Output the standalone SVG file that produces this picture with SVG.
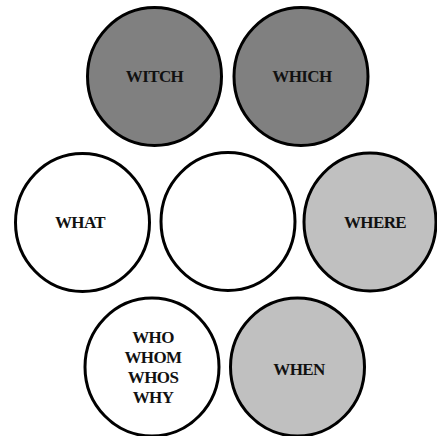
<svg xmlns="http://www.w3.org/2000/svg" width="437" height="436" viewBox="0 0 437 436">
<style>
.c{stroke:#000;stroke-width:3}
.dark{fill:#808080}
.light{fill:#c0c0c0}
.white{fill:#fff}
text{font-family:"Liberation Serif","Times New Roman",serif;font-weight:bold;font-size:17px;letter-spacing:-0.6px;fill:#111;text-anchor:middle}
</style>
<rect width="437" height="436" fill="#fff"/>
<g id="connectors"/>
<g id="witch"><ellipse class="c dark" cx="154.5" cy="76.5" rx="67" ry="69"/><text x="154.5" y="81.5">WITCH</text></g>
<g id="which"><ellipse class="c dark" cx="301" cy="76.5" rx="67" ry="69"/><text x="302" y="81.5">WHICH</text></g>
<g id="what"><ellipse class="c white" cx="82.5" cy="222.5" rx="67" ry="69"/><text x="80" y="228">WHAT</text></g>
<g id="center"><ellipse class="c white" cx="228" cy="221.5" rx="67" ry="69"/></g>
<g id="where"><ellipse class="c light" cx="370" cy="222" rx="66" ry="69"/><text x="375" y="227.5">WHERE</text></g>
<g id="who"><ellipse class="c white" cx="152" cy="367" rx="67" ry="69"/><text x="153" y="342.5">WHO</text><text x="153" y="363">WHOM</text><text x="153" y="383">WHOS</text><text x="153" y="403">WHY</text></g>
<g id="when"><ellipse class="c light" cx="297.5" cy="367" rx="67" ry="69"/><text x="299" y="375">WHEN</text></g>
</svg>
